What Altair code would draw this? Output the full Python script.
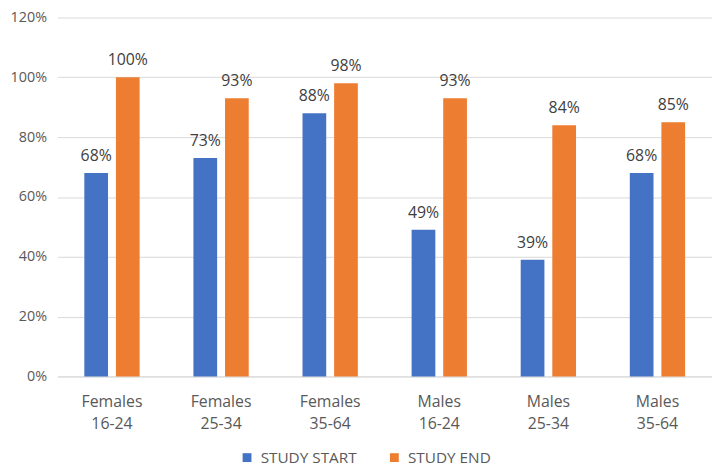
import altair as alt
import pandas as pd

categories = ["Females 16-24", "Females 25-34", "Females 35-64",
              "Males 16-24", "Males 25-34", "Males 35-64"]
series = ["STUDY START", "STUDY END"]
start_vals = [0.68, 0.73, 0.88, 0.49, 0.39, 0.68]
end_vals = [1.00, 0.93, 0.98, 0.93, 0.84, 0.85]

rows = []
for c, s, e in zip(categories, start_vals, end_vals):
    rows.append({"group": c, "series": series[0], "value": s})
    rows.append({"group": c, "series": series[1], "value": e})
df = pd.DataFrame(rows)

FONT = "Open Sans"

x = alt.X("group:N", sort=categories, title=None,
          scale=alt.Scale(paddingInner=0.493, paddingOuter=0.2465),
          axis=alt.Axis(labelAngle=0, labelExpr="split(datum.label, ' ')",
                        labelFontSize=16, labelColor="#595959", labelFont=FONT,
                        labelLineHeight=23, labelPadding=17, ticks=False,
                        domainColor="#d9d9d9", labelBaseline="top"))
xo = alt.XOffset("series:N", sort=series,
                 scale=alt.Scale(paddingInner=0.25, paddingOuter=0))
y = alt.Y("value:Q", title=None,
          scale=alt.Scale(domain=[0, 1.2], nice=False),
          axis=alt.Axis(format="%", values=[0, 0.2, 0.4, 0.6, 0.8, 1.0, 1.2],
                        labelFontSize=14.5, labelColor="#595959", labelFont=FONT,
                        labelPadding=11, ticks=False, domain=False,
                        gridColor="#d9d9d9"))
color = alt.Color("series:N", sort=series,
                  scale=alt.Scale(domain=series, range=["#4472C4", "#ED7D31"]),
                  legend=alt.Legend(title=None, orient="none", direction="horizontal",
                                    legendX=184, legendY=437,
                                    symbolType="square", symbolSize=80,
                                    symbolStrokeWidth=0,
                                    labelFontSize=15.5, labelColor="#595959",
                                    labelFont=FONT, columnPadding=30,
                                    symbolOffset=0, labelOffset=6))

bars = alt.Chart(df).mark_bar().encode(x=x, xOffset=xo, y=y, color=color)
labels = alt.Chart(df).mark_text(dy=-17, fontSize=16, color="#404040", font=FONT).encode(
    x=x, xOffset=xo, y=y, text=alt.Text("value:Q", format=".0%"))

chart = (bars + labels).properties(
    width=662, height=363,
    autosize=alt.AutoSizeParams(type="none"),
    padding={"left": 50, "top": 7, "right": 0, "bottom": 88},
).configure_view(stroke=None)

chart.save("out.html", embed_options={"renderer": "svg", "actions": False})
